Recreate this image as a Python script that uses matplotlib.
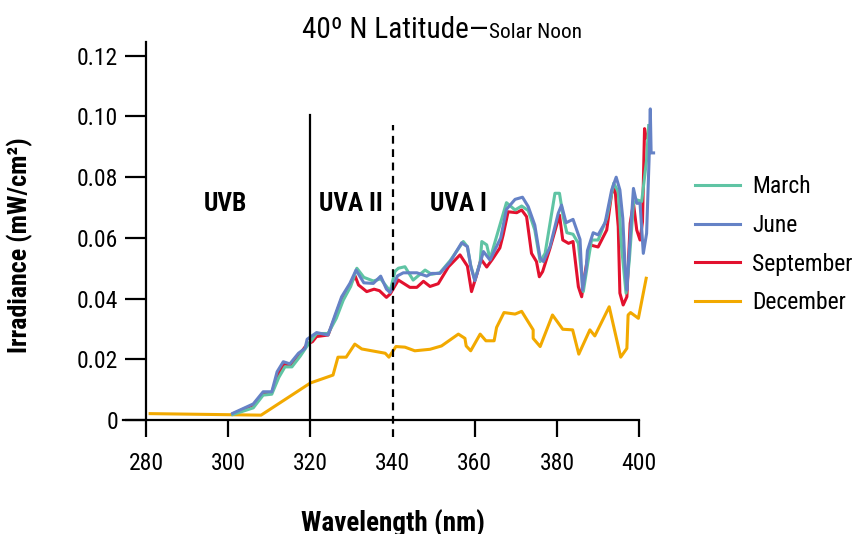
import matplotlib
matplotlib.use("Agg")
import matplotlib.pyplot as plt
from matplotlib import font_manager
from matplotlib.ticker import FixedLocator, FuncFormatter

_avail = {f.name for f in font_manager.fontManager.ttflist}
_cands = ['Liberation Sans Narrow', 'Roboto Condensed', 'Open Sans Condensed', 'Roboto', 'Liberation Sans']
FONT = next(c for c in _cands if c in _avail)
NARROW = FONT in ('Liberation Sans Narrow', 'Roboto Condensed', 'Open Sans Condensed')
plt.rcParams['font.family'] = [FONT, 'DejaVu Sans']
FS = 17 if NARROW else 15.5

# ---- data ----
march_wl = [301.1, 306.1, 308.5, 310.6, 312.3, 313.8, 315.5, 317.5, 319.5, 321.5, 324.3, 326.3, 328.0,
            329.8, 331.3, 333.0, 335.3, 337.1, 338.5, 339.4, 340.6, 341.4, 343.0, 345.0, 347.9, 349.5,
            351.5, 354.0, 357.2, 358.2, 359.0, 360.0, 361.3, 361.7, 362.9, 363.7, 366.1, 367.7, 369.8,
            371.4, 373.0, 374.6, 375.9, 377.1, 379.5, 380.6, 381.5, 382.4, 383.9, 385.2, 386.4, 387.6,
            388.4, 390.0, 392.1, 393.8, 394.9, 395.7, 396.8, 397.6, 398.6, 399.5, 400.6, 401.8, 402.3]
march = [0.0018, 0.0040, 0.0082, 0.0085, 0.0140, 0.0175, 0.0175, 0.0210, 0.0250, 0.0285, 0.0285, 0.0335,
         0.0395, 0.0440, 0.0500, 0.0470, 0.0458, 0.0465, 0.0440, 0.0425, 0.0490, 0.0500, 0.0505, 0.0461,
         0.0494, 0.0480, 0.0485, 0.0525, 0.0588, 0.0571, 0.0510, 0.0461, 0.0520, 0.0588, 0.0577, 0.0530,
         0.0642, 0.0716, 0.0692, 0.0705, 0.0690, 0.0626, 0.0522, 0.0549, 0.0747, 0.0747, 0.0670, 0.0617,
         0.0612, 0.0582, 0.0423, 0.0527, 0.0593, 0.0593, 0.0665, 0.0780, 0.0752, 0.0571, 0.0418, 0.0527,
         0.0714, 0.0725, 0.0720, 0.0857, 0.0970]

june_wl = [301.1, 306.1, 308.5, 310.6, 311.9, 313.4, 315.0, 317.1, 318.7, 319.2, 321.5, 324.3, 326.0,
           327.6, 329.6, 331.1, 333.0, 335.3, 337.1, 338.5, 339.4, 341.2, 342.6, 345.9, 348.3, 349.5,
           351.5, 354.0, 356.8, 358.2, 359.0, 360.0, 361.3, 362.1, 363.7, 366.3, 367.7, 369.8, 371.6,
           373.0, 374.6, 375.9, 376.7, 378.3, 380.3, 381.1, 382.2, 383.9, 385.6, 386.2, 387.1, 387.4,
           388.8, 390.0, 391.7, 393.3, 394.4, 395.3, 396.0, 396.6, 397.0, 397.6, 398.6, 399.4, 400.2,
           401.0, 401.8, 402.4, 402.7, 402.9, 403.5]
june = [0.0022, 0.0053, 0.0093, 0.0093, 0.0159, 0.0192, 0.0185, 0.0220, 0.0236, 0.0266, 0.0288, 0.0280,
        0.0346, 0.0406, 0.0450, 0.0494, 0.0452, 0.0450, 0.0474, 0.0431, 0.0420, 0.0475, 0.0485, 0.0485,
        0.0474, 0.0483, 0.0483, 0.0521, 0.0584, 0.0571, 0.0507, 0.0459, 0.0517, 0.0555, 0.0527, 0.0600,
        0.0694, 0.0727, 0.0734, 0.0703, 0.0642, 0.0533, 0.0522, 0.0571, 0.0681, 0.0708, 0.0650, 0.0661,
        0.0595, 0.0428, 0.0500, 0.0558, 0.0617, 0.0610, 0.0650, 0.0758, 0.0800, 0.0758, 0.0665, 0.0494,
        0.0428, 0.0560, 0.0763, 0.0714, 0.0714, 0.0549, 0.0615, 0.0857, 0.1025, 0.0880, 0.0880]

september_wl = [301.1, 306.1, 308.5, 310.6, 312.1, 313.6, 315.2, 317.3, 319.2, 320.5, 321.5, 324.3, 326.0,
                327.6, 329.6, 330.9, 331.7, 333.7, 335.5, 336.8, 338.5, 339.4, 341.4, 344.2, 345.9, 347.5,
                349.1, 351.1, 353.6, 356.4, 358.2, 359.2, 360.5, 361.5, 362.9, 364.3, 366.1, 366.9, 368.1,
                370.2, 371.4, 372.6, 373.8, 375.0, 375.7, 376.5, 378.3, 380.6, 381.4, 382.8, 383.9, 385.2,
                386.0, 386.8, 388.0, 390.0, 392.1, 393.3, 394.1, 394.9, 395.3, 396.1, 397.0, 397.8, 398.6,
                399.4, 400.2, 400.8, 401.3, 401.7]
september = [0.0020, 0.0050, 0.0088, 0.0090, 0.0150, 0.0185, 0.0180, 0.0215, 0.0250, 0.0258, 0.0275,
             0.0280, 0.0340, 0.0400, 0.0445, 0.0474, 0.0445, 0.0423, 0.0431, 0.0426, 0.0404, 0.0415,
             0.0461, 0.0437, 0.0437, 0.0457, 0.0440, 0.0449, 0.0505, 0.0544, 0.0507, 0.0423, 0.0480,
             0.0530, 0.0504, 0.0530, 0.0567, 0.0610, 0.0686, 0.0683, 0.0692, 0.0670, 0.0549, 0.0522,
             0.0472, 0.0489, 0.0566, 0.0675, 0.0593, 0.0582, 0.0588, 0.0439, 0.0406, 0.0483, 0.0577,
             0.0570, 0.0626, 0.0747, 0.0763, 0.0637, 0.0418, 0.0379, 0.0406, 0.0648, 0.0714, 0.0626,
             0.0593, 0.0653, 0.0960, 0.0930]

december_wl = [281.0, 308.0, 320.0, 325.5, 326.7, 328.7, 330.8, 332.5, 338.2, 339.1, 340.8, 343.0, 345.4,
               349.1, 351.9, 356.0, 357.6, 357.9, 359.0, 361.3, 362.7, 364.7, 365.3, 367.1, 369.8, 371.4,
               374.2, 374.2, 375.9, 378.9, 381.4, 383.8, 385.3, 388.0, 389.2, 392.7, 395.5, 397.0, 397.3,
               397.9, 399.8, 401.7]
december = [0.0021, 0.0016, 0.0122, 0.0148, 0.0207, 0.0207, 0.0250, 0.0234, 0.0220, 0.0207, 0.0242,
            0.0240, 0.0228, 0.0233, 0.0244, 0.0283, 0.0269, 0.0244, 0.0228, 0.0283, 0.0261, 0.0261,
            0.0305, 0.0354, 0.0349, 0.0358, 0.0297, 0.0269, 0.0242, 0.0346, 0.0299, 0.0297, 0.0217,
            0.0297, 0.0277, 0.0373, 0.0207, 0.0236, 0.0346, 0.0354, 0.0335, 0.0467]

x_ticks = [280, 300, 320, 340, 360, 380, 400]
y_ticks = [0, 0.02, 0.04, 0.06, 0.08, 0.10, 0.12]
regions = ["UVB", "UVA II", "UVA I"]
region_x = [299.3, 329.9, 355.9]

colors = {"March": "#5fc4a4", "June": "#6582c6", "September": "#e2112e", "December": "#f2a900"}

fig = plt.figure(figsize=(8.66, 5.34), dpi=100)
XL, XR = 274.4, 405.06
AX_L, AX_R, AX_B, AX_T = 123, 660, 420, 40.6
ax = fig.add_axes([AX_L/866, 1-AX_B/534, (AX_R-AX_L)/866, (AX_B-AX_T)/534])
ax.set_xlim(XL, XR)
ax.set_ylim(0, 0.125)

lw = 2.2
ax.plot(december_wl, december, color=colors["December"], lw=lw, label="December", zorder=2)
ax.plot(september_wl, september, color=colors["September"], lw=lw, label="September", zorder=3)
ax.plot(march_wl, march, color=colors["March"], lw=lw, label="March", zorder=4)
ax.plot(june_wl, june, color=colors["June"], lw=lw, label="June", zorder=5)

# region boundaries
ax.plot([320, 320], [0, 0.1005], color="black", lw=1.6, zorder=6)
ax.plot([340, 340], [-0.0057, 0.0972], color="black", lw=1.6, ls=(0, (3.5, 2.5)), zorder=6, clip_on=False)

for name, xx in zip(regions, region_x):
    ax.text(xx, 0.0712, name, ha="center", va="center", fontsize=FS + 1.3, fontweight="bold")

# spines
for s in ["top", "right"]:
    ax.spines[s].set_visible(False)
ax.spines["left"].set_position(("data", 280))
ax.spines["left"].set_bounds(0, 0.1245)
ax.spines["bottom"].set_bounds(XL, 400)
ax.spines["left"].set_linewidth(1.6)
ax.spines["bottom"].set_linewidth(1.6)

ax.xaxis.set_major_locator(FixedLocator(x_ticks))
ax.yaxis.set_major_locator(FixedLocator(y_ticks))
ax.yaxis.set_major_formatter(FuncFormatter(lambda v, p: "0" if v == 0 else f"{v:.2f}"))
ax.tick_params(axis="x", direction="out", length=12, width=1.6, labelsize=FS, pad=11)
ax.tick_params(axis="y", direction="out", length=15, width=1.6, labelsize=FS, pad=5)
ax.xaxis.get_major_ticks()[3].tick1line.set_visible(False)

ax.set_xlabel("Wavelength (nm)", fontsize=FS * 1.15, fontweight="bold")
ax.set_ylabel("Irradiance (mW/cm²)", fontsize=FS * 1.1, fontweight="bold")
W = AX_R - AX_L
H = AX_B - AX_T
ax.xaxis.set_label_coords((393 - AX_L) / W, (AX_B - 510) / H)
ax.yaxis.set_label_coords((33 - AX_L) / W, (AX_B - 245) / H)

# title
fig.text(488/866, 1-38/534, "40º N Latitude—", ha="right", va="baseline", fontsize=FS * 1.24)
fig.text(489/866, 1-38/534, "Solar Noon", ha="left", va="baseline", fontsize=FS * 0.9)

# legend
handles, labels = ax.get_legend_handles_labels()
order = ["March", "June", "September", "December"]
hmap = dict(zip(labels, handles))
leg = fig.legend([hmap[k] for k in order], order, loc="upper left",
                 bbox_to_anchor=(686/866, 1-166/534), frameon=False, fontsize=FS,
                 handlelength=1.9, handletextpad=0.5, labelspacing=0.66, borderaxespad=0)

fig.savefig("out.png", dpi=100)
